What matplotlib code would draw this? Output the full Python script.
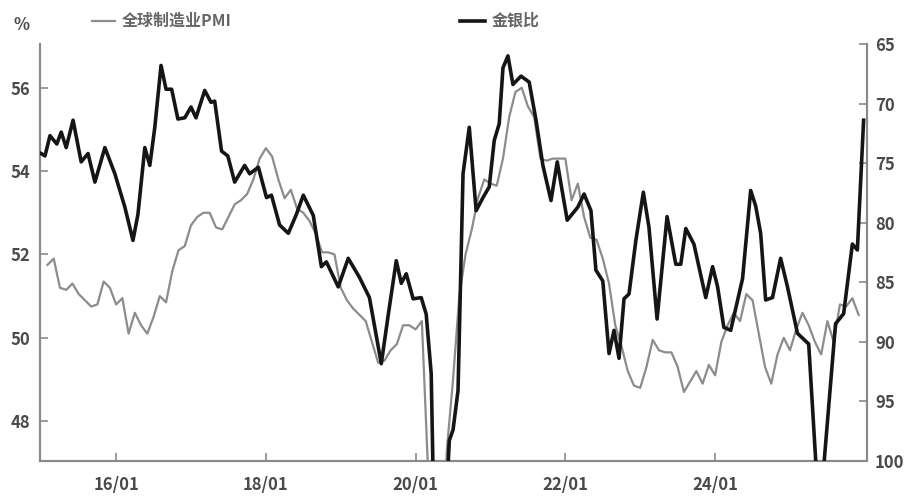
import matplotlib
matplotlib.use('Agg')
import matplotlib.pyplot as plt
from matplotlib.lines import Line2D

plt.rcParams['font.family'] = ['Noto Sans CJK SC', 'DejaVu Sans']

# month index: 0 = 2015/01
pmi_start = 1
pmi = [51.75, 51.9, 51.2, 51.15, 51.3, 51.05, 50.9, 50.75, 50.8, 51.35,
       51.2, 50.8, 50.95, 50.1, 50.6, 50.3, 50.1, 50.5, 51.0, 50.85,
       51.6, 52.1, 52.2, 52.7, 52.9, 53.0, 53.0, 52.65, 52.6, 52.9,
       53.2, 53.3, 53.45, 53.8, 54.3, 54.55, 54.35, 53.8, 53.35, 53.55,
       53.1, 53.0, 52.8, 52.5, 52.05, 52.05, 52.0, 51.2, 50.9, 50.7,
       50.55, 50.4, 49.9, 49.4, 49.45, 49.7, 49.85, 50.3, 50.3, 50.2,
       50.4, 46.8, 39.6, 42.4, 47.3, 49.0, 51.0, 52.0, 52.6, 53.35,
       53.8, 53.7, 53.65, 54.3, 55.3, 55.9, 56.0, 55.55, 55.3, 54.3,
       54.25, 54.3, 54.3, 54.3, 53.3, 53.7, 52.9, 52.4, 52.35, 51.9,
       51.3, 50.3, 49.8, 49.2, 48.85, 48.8, 49.3, 49.95, 49.7, 49.65,
       49.65, 49.3, 48.7, 48.95, 49.2, 48.9, 49.35, 49.1, 49.9, 50.3,
       50.6, 50.4, 51.05, 50.9, 50.1, 49.3, 48.9, 49.6, 50.0, 49.7,
       50.2, 50.6, 50.3, 49.9, 49.6, 50.4, 49.9, 50.8, 50.75, 50.95,
       50.55]
pmi_month = list(range(pmi_start, pmi_start + len(pmi)))

gsr_month = [0.0, 0.6, 1.4, 2.5, 3.2, 4.0, 5.1, 6.4, 7.5, 8.6, 10.2, 11.8,
             13.4, 14.7, 15.5, 16.6, 17.4, 18.2, 19.2, 20.0, 20.9, 21.9,
             23.0, 24.0, 24.8, 26.2, 27.2, 27.8, 28.9, 29.9, 31.0, 32.6,
             33.4, 34.8, 36.1, 36.9, 38.2, 39.6, 40.9, 42.0, 43.6, 44.9,
             45.7, 47.6, 49.2, 51.0, 52.6, 54.5, 55.6, 56.9, 57.7, 58.5,
             59.6, 60.9, 61.7, 62.5, 63.3, 64.3, 65.4, 66.0, 66.8, 67.6,
             68.6, 69.7, 70.8, 71.8, 72.6, 73.4, 74.0, 74.8, 75.6, 76.9,
             78.2, 79.3, 80.4, 81.7, 82.7, 83.3, 84.3, 86.0, 87.0, 88.1,
             88.9, 90.0, 91.0, 91.8, 92.6, 93.4, 94.2, 95.3, 96.5, 97.4,
             98.7, 100.3, 101.7, 102.5, 103.3, 104.6, 106.5, 107.6, 108.4,
             109.4, 110.5, 112.4, 113.7, 114.5, 115.3, 116.1, 117.2, 118.5,
             119.6, 121.2, 123.0, 124.7, 127.3, 128.6, 130.0, 130.8, 131.8]
gsr = [74.2, 74.4, 72.7, 73.4, 72.4, 73.7, 71.4, 74.9, 74.2, 76.6, 73.7, 75.9,
       78.7, 81.5, 79.3, 73.7, 75.2, 72.0, 66.8, 68.8, 68.8, 71.3,
       71.2, 70.3, 71.2, 68.9, 69.9, 69.8, 74.0, 74.4, 76.6, 75.2,
       75.9, 75.35, 77.9, 77.7, 80.2, 80.9, 79.3, 77.7, 79.4, 83.7,
       83.3, 85.4, 83.0, 84.6, 86.3, 91.85, 87.8, 83.2, 85.1, 84.3,
       86.4, 86.3, 87.7, 92.7, 115.0, 110.0, 98.3, 97.4, 94.1, 75.9,
       72.0, 79.0, 77.9, 77.0, 73.1, 71.7, 67.0, 66.0, 68.4, 67.7,
       68.2, 71.4, 75.2, 78.15, 74.9, 76.75, 79.8, 78.7, 77.6, 79.0,
       84.0, 84.9, 91.0, 89.05, 91.4, 86.4, 86.0, 81.5, 77.45, 80.4,
       88.1, 79.5, 83.5, 83.5, 80.5, 81.8, 86.3, 83.7, 85.4,
       88.8, 89.05, 84.7, 77.3, 78.6, 80.9, 86.5, 86.3, 83.0,
       85.4, 89.3, 90.2, 105.0, 88.5, 87.65, 81.8, 82.3, 71.4]

tick_month = [12, 36, 60, 84, 108]
tick_labels = ['16/01', '18/01', '20/01', '22/01', '24/01']

axis_grey = '#8a8a8a'
text_grey = '#4a4a4a'

fig = plt.figure(figsize=(9.11, 4.97), dpi=100)
ax = fig.add_axes([0.0439, 0.073, 0.9075, 0.8385])
ax2 = ax.twinx()

ax.plot(pmi_month, pmi, color='#8c8c8c', lw=1.6, zorder=2,
        solid_joinstyle='round')
ax2.plot(gsr_month, gsr, color='#151515', lw=2.6, zorder=3,
         solid_joinstyle='round')

ax.set_xlim(-0.2, 132.3)
ax.set_ylim(47.05, 57.05)
ax2.set_ylim(100, 65)

ax.set_xticks(tick_month)
ax.set_xticklabels(tick_labels)
ax.set_yticks([48, 50, 52, 54, 56])
ax2.set_yticks([65, 70, 75, 80, 85, 90, 95, 100])

for a in (ax, ax2):
    a.spines['top'].set_visible(False)
    for s in ('left', 'right', 'bottom'):
        a.spines[s].set_color(axis_grey)
        a.spines[s].set_linewidth(1.5)
    a.tick_params(direction='in', length=6, width=1.2, color=axis_grey,
                  labelsize=12, labelcolor=text_grey)
ax.tick_params(axis='x', pad=11)
ax.tick_params(axis='y', pad=7)
ax2.tick_params(axis='y', pad=6)
for lbl in ax.get_xticklabels() + ax.get_yticklabels() + ax2.get_yticklabels():
    lbl.set_fontweight('bold')
ax2.set_zorder(ax.get_zorder() + 1)
ax2.patch.set_visible(False)

fig.text(0.015, 0.94, '%', fontsize=12, fontweight='bold', color=text_grey)

# legend entries
fig.add_artist(Line2D([0.101, 0.126], [0.958, 0.958], color='#8c8c8c', lw=1.6,
                      transform=fig.transFigure))
fig.text(0.134, 0.958, '全球制造业PMI', fontsize=11.5, fontweight='bold',
         color='#666666', va='center')
fig.add_artist(Line2D([0.505, 0.532], [0.958, 0.958], color='#151515', lw=2.6,
                      transform=fig.transFigure))
fig.text(0.540, 0.958, '金银比', fontsize=11.5, fontweight='bold',
         color='#666666', va='center')

fig.savefig('out.png', dpi=100)
